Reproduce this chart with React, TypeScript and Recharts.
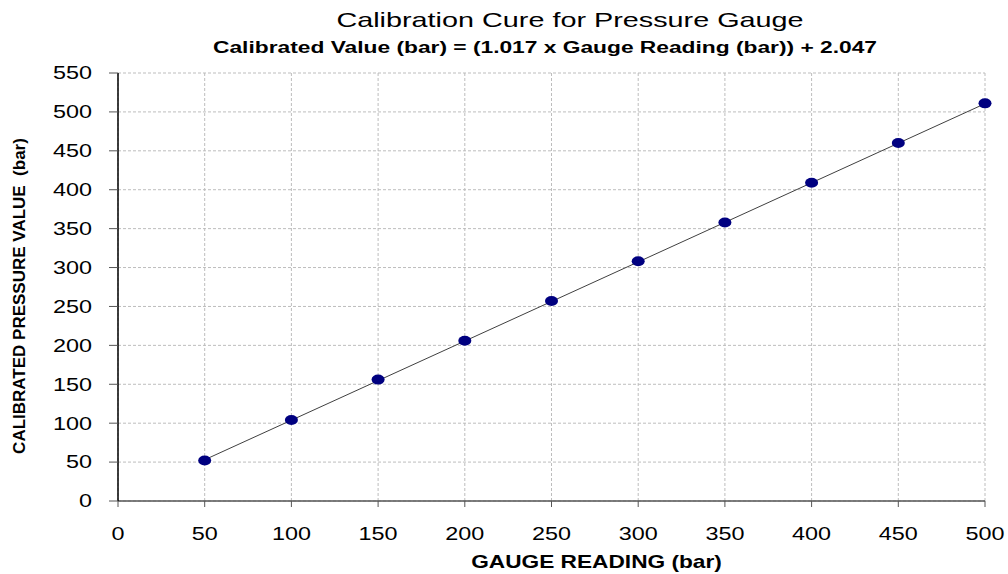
import { CartesianGrid, Scatter, ScatterChart, XAxis, YAxis } from "recharts";

// gauge reading (bar) vs calibrated value (bar)
const gaugeReadings = [50, 100, 150, 200, 250, 300, 350, 400, 450, 500];
const calibratedValues = [52, 104, 156, 206, 257, 308, 358, 409, 460, 511];

// fitted trend line, end points
const trendX = [50, 500];
const trendY = [53, 510.6];

const xTicks = [0, 50, 100, 150, 200, 250, 300, 350, 400, 450, 500];
const yTicks = [0, 50, 100, 150, 200, 250, 300, 350, 400, 450, 500, 550];

const points = gaugeReadings.map((x, i) => ({ x, y: calibratedValues[i] }));
const trend = trendX.map((x, i) => ({ x, y: trendY[i] }));

const FONT = "'Liberation Sans', Arial, sans-serif";
// the source picture is stretched sideways, so horizontal text gets widened
const STRETCH = 1.3;

const Dot = (props: any) => {
  const { cx, cy } = props;
  return <ellipse cx={cx} cy={cy} rx={6.5} ry={5} fill="#000080" />;
};

const NoDot = () => <g />;

const XTick = (props: any) => {
  const { x, y, payload } = props;
  return (
    <text
      transform={`translate(${x},${y + 12.8}) scale(${STRETCH},1)`}
      textAnchor="middle"
      fontSize={18}
      fontFamily={FONT}
      fill="#000"
    >
      {payload.value}
    </text>
  );
};

const YTick = (props: any) => {
  const { x, y, payload } = props;
  return (
    <text
      transform={`translate(${x},${y + 6.4}) scale(${STRETCH},1)`}
      textAnchor="end"
      fontSize={18}
      fontFamily={FONT}
      fill="#000"
    >
      {payload.value}
    </text>
  );
};

export default function App() {
  return (
    <div
      style={{
        position: "absolute",
        left: 0,
        top: 0,
        width: 1008,
        height: 574,
        background: "#fff",
        fontFamily: FONT,
      }}
    >
      <ScatterChart
        width={1008}
        height={574}
        margin={{ top: 73, right: 23, bottom: 33, left: 0 }}
      >
        <CartesianGrid stroke="#bdbdbd" strokeDasharray="3 2" />
        <XAxis
          type="number"
          dataKey="x"
          domain={[0, 500]}
          ticks={xTicks}
          interval={0}
          height={40}
          tickSize={6}
          tickMargin={20}
          axisLine={{ stroke: "#555", strokeWidth: 1.5 }}
          tickLine={{ stroke: "#555" }}
          tick={XTick}
        />
        <YAxis
          type="number"
          dataKey="y"
          domain={[0, 550]}
          ticks={yTicks}
          interval={0}
          width={118}
          tickSize={9}
          tickMargin={17}
          axisLine={{ stroke: "#000", strokeWidth: 1.5 }}
          tickLine={{ stroke: "#555" }}
          tick={YTick}
        />
        <Scatter
          data={trend}
          line={{ stroke: "#404040", strokeWidth: 1 }}
          shape={NoDot}
          isAnimationActive={false}
        />
        <Scatter data={points} shape={Dot} isAnimationActive={false} />
      </ScatterChart>

      <svg
        width={1008}
        height={574}
        style={{ position: "absolute", left: 0, top: 0, pointerEvents: "none" }}
      >
        <text
          transform="translate(570,27) scale(1.44,1)"
          textAnchor="middle"
          fontSize={20}
          fontFamily={FONT}
          fill="#000"
        >
          Calibration Cure for Pressure Gauge
        </text>
        <text
          transform="translate(545,53) scale(1.34,1)"
          textAnchor="middle"
          fontSize={17}
          fontWeight="bold"
          fontFamily={FONT}
          fill="#000"
        >
          Calibrated Value (bar) = (1.017 x Gauge Reading (bar)) + 2.047
        </text>
        <text
          transform="translate(596.5,568) scale(1.26,1)"
          textAnchor="middle"
          fontSize={18}
          fontWeight="bold"
          fontFamily={FONT}
          fill="#000"
        >
          GAUGE READING (bar)
        </text>
        <text
          transform="translate(25,296) rotate(-90)"
          textAnchor="middle"
          fontSize={17}
          fontWeight="bold"
          fontFamily={FONT}
          fill="#000"
          xmlSpace="preserve"
        >
          CALIBRATED PRESSURE VALUE  (bar)
        </text>
      </svg>
    </div>
  );
}
